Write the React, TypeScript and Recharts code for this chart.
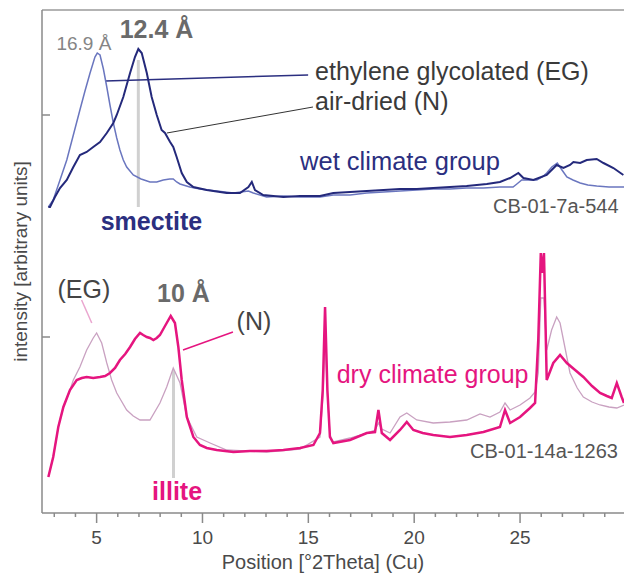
import { LineChart, Line, XAxis, YAxis, ReferenceLine, ReferenceDot } from 'recharts'

const FONT = '"Liberation Sans", Arial, Helvetica, sans-serif'

// x = position [°2Theta], y = intensity (arbitrary units, offset per group)
// wet climate group, CB-01-7a-544
const wetEG: [number, number][] = [
  [2.72, 306], [2.95, 313], [3.27, 333], [3.59, 353], [3.90, 378], [4.21, 403], [4.45, 422],
  [4.69, 440], [4.92, 456], [5.03, 460], [5.16, 458], [5.32, 444], [5.48, 426], [5.63, 408],
  [5.79, 390], [5.95, 375], [6.10, 363], [6.26, 353], [6.42, 346], [6.73, 338], [7.10, 334],
  [7.52, 331], [7.84, 331], [8.15, 333], [8.45, 334], [8.62, 334], [8.78, 331], [8.94, 329],
  [9.40, 326], [9.88, 324], [10.67, 322], [11.46, 320], [12.17, 322], [12.40, 320], [13.03, 316],
  [13.82, 317], [14.61, 316], [15.55, 316], [16.18, 318], [16.97, 318], [17.76, 320], [18.55, 321],
  [19.33, 322], [20.12, 323], [20.90, 324], [21.69, 324], [22.48, 325], [23.27, 325], [24.05, 326],
  [24.67, 326], [24.85, 329], [25.08, 333], [25.40, 333], [25.79, 333], [26.05, 336], [26.26, 340],
  [26.50, 346], [26.76, 350], [26.98, 343], [27.21, 336], [27.50, 333], [27.84, 330], [28.20, 328],
  [28.62, 327], [29.20, 326], [29.91, 326],
]

const wetN: [number, number][] = [
  [2.72, 306], [2.80, 306], [3.03, 316], [3.27, 325], [3.59, 333], [3.90, 346], [4.21, 358],
  [4.53, 361], [4.84, 366], [5.16, 371], [5.48, 380], [5.79, 390], [5.95, 398], [6.26, 416],
  [6.58, 440], [6.81, 456], [6.97, 464], [7.13, 460], [7.37, 440], [7.60, 416], [7.84, 398],
  [8.07, 383], [8.23, 380], [8.47, 371], [8.62, 366], [8.78, 356], [9.02, 340], [9.26, 331],
  [9.57, 326], [10.20, 323], [11.14, 320], [11.77, 320], [12.17, 326], [12.33, 331], [12.48, 323],
  [12.87, 318], [13.82, 316], [14.61, 317], [15.55, 317], [16.18, 320], [16.97, 321], [17.76, 322],
  [18.55, 323], [19.33, 324], [20.12, 324], [20.90, 325], [21.69, 326], [22.48, 327], [23.43, 329],
  [24.05, 331], [24.53, 335], [24.92, 340], [25.16, 335], [25.63, 333], [26.26, 338], [26.73, 348],
  [27.05, 345], [27.36, 348], [27.52, 351], [27.84, 350], [28.15, 353], [28.62, 354], [28.94, 350],
  [29.41, 345], [29.88, 338],
]

// dry climate group, CB-01-14a-1263
const dryEG: [number, number][] = [
  [2.72, 36], [2.95, 56], [3.19, 86], [3.43, 106], [3.74, 123], [3.90, 133], [4.21, 146],
  [4.53, 163], [4.84, 175], [5.00, 180], [5.24, 170], [5.48, 150], [5.71, 133], [5.95, 120],
  [6.42, 103], [6.73, 97], [7.05, 93], [7.52, 93], [7.99, 110], [8.31, 126], [8.62, 145],
  [8.94, 130], [9.26, 96], [9.73, 76], [10.36, 70], [11.14, 63], [12.00, 62], [13.03, 61],
  [14.61, 64], [15.55, 76], [15.70, 120], [15.79, 180], [15.90, 120], [16.02, 78], [16.18, 71],
  [16.97, 75], [17.76, 80], [18.15, 83], [18.31, 90], [18.47, 84], [18.86, 80], [19.33, 96],
  [19.65, 100], [20.12, 93], [20.90, 90], [21.69, 91], [22.48, 93], [23.11, 99], [23.58, 96],
  [24.05, 101], [24.29, 110], [24.53, 103], [25.00, 108], [25.47, 115], [25.71, 121], [25.86, 140],
  [25.98, 215], [26.13, 215], [26.26, 163], [26.49, 183], [26.73, 196], [26.89, 190], [27.05, 173],
  [27.36, 140], [27.70, 125], [27.99, 116], [28.40, 111], [28.78, 108], [29.20, 106], [29.57, 105],
  [29.91, 108],
]

const dryN: [number, number][] = [
  [2.72, 36], [2.95, 56], [3.19, 86], [3.43, 106], [3.74, 123], [4.06, 133], [4.30, 135],
  [4.53, 136], [4.84, 135], [5.16, 136], [5.40, 137], [5.63, 140], [5.87, 145], [6.10, 153],
  [6.35, 159], [6.58, 166], [6.81, 174], [7.05, 180], [7.20, 178], [7.37, 176], [7.52, 175],
  [7.68, 173], [7.84, 175], [7.99, 178], [8.15, 184], [8.31, 190], [8.50, 197], [8.70, 190],
  [8.86, 166], [9.02, 133], [9.26, 96], [9.57, 76], [9.88, 68], [10.20, 65], [10.67, 63],
  [11.46, 61], [12.24, 62], [13.03, 62], [13.82, 63], [14.61, 65], [15.24, 68], [15.55, 80],
  [15.68, 123], [15.79, 206], [15.90, 123], [16.02, 76], [16.18, 70], [16.97, 73], [17.76, 80],
  [18.15, 81], [18.31, 103], [18.47, 80], [18.86, 73], [19.33, 83], [19.65, 91], [19.96, 83],
  [20.40, 80], [20.90, 78], [21.69, 76], [22.48, 78], [23.27, 81], [24.05, 86], [24.29, 103],
  [24.53, 90], [25.00, 96], [25.47, 105], [25.71, 110], [25.86, 173], [25.98, 260], [26.05, 240],
  [26.13, 260], [26.26, 133], [26.57, 150], [26.89, 158], [27.21, 150], [27.60, 143], [27.99, 136],
  [28.40, 127], [28.78, 120], [29.10, 117], [29.33, 115], [29.57, 130], [29.80, 116], [29.91, 110],
]

const xTicks = [3, 4, 5, 6, 7, 8, 9, 10, 11, 12, 13, 14, 15, 16, 17, 18, 19, 20, 21, 22, 23, 24, 25, 26, 27, 28, 29]
const yTicks = [176, 398]

const notes = [
  { x: 4.40, y: 463, text: '16.9 Å', anchor: 'middle', size: 19, weight: 400, color: '#858585' },
  { x: 7.83, y: 475, text: '12.4 Å', anchor: 'middle', size: 25, weight: 700, color: '#6a6a6a' },
  { x: 7.59, y: 283, text: 'smectite', anchor: 'middle', size: 25, weight: 700, color: '#2b2f80' },
  { x: 15.32, y: 433, text: 'ethylene glycolated (EG)', anchor: 'start', size: 25, weight: 400, color: '#3a3a3a' },
  { x: 15.32, y: 403, text: 'air-dried (N)', anchor: 'start', size: 25, weight: 400, color: '#3a3a3a' },
  { x: 14.61, y: 343, text: 'wet climate group', anchor: 'start', size: 25.5, weight: 400, color: '#2b2f80' },
  { x: 23.72, y: 300, text: 'CB-01-7a-544', anchor: 'start', size: 20, weight: 400, color: '#555555' },
  { x: 4.40, y: 215, text: '(EG)', anchor: 'middle', size: 25, weight: 400, color: '#444444' },
  { x: 9.10, y: 211, text: '10 Å', anchor: 'middle', size: 25, weight: 700, color: '#6a6a6a' },
  { x: 12.43, y: 183, text: '(N)', anchor: 'middle', size: 25, weight: 400, color: '#444444' },
  { x: 8.80, y: 13, text: 'illite', anchor: 'middle', size: 25, weight: 700, color: '#e5157f' },
  { x: 16.34, y: 130, text: 'dry climate group', anchor: 'start', size: 25, weight: 400, color: '#e5157f' },
  { x: 22.64, y: 55, text: 'CB-01-14a-1263', anchor: 'start', size: 20, weight: 400, color: '#555555' },
]

const leaders = [
  { from: [6.97, 453], to: [6.97, 306], color: '#d0d0d0', width: 3 },
  { from: [8.63, 143], to: [8.63, 35], color: '#d0d0d0', width: 3 },
  { from: [5.40, 432], to: [14.99, 438], color: '#2b2f80', width: 1.5 },
  { from: [8.32, 380], to: [15.22, 406], color: '#333333', width: 1 },
  { from: [4.29, 213], to: [4.77, 190], color: '#eaa6cf', width: 1.5 },
  { from: [9.08, 163], to: [11.44, 181], color: '#e5157f', width: 1.5 },
]

const toPoints = (arr: [number, number][]) => arr.map(([x, y]) => ({ x, y }))

function XTick({ x, y, payload }: any) {
  const major = payload.value % 5 === 0
  return (
    <g>
      <line x1={x} x2={x} y1={y} y2={y + (major ? 10 : 4)} stroke="#8a8a8a" strokeWidth={1.5} />
      {major && (
        <text x={x} y={y + 31} textAnchor="middle" fontSize={19} fill="#4a4a4a" fontFamily={FONT}>
          {payload.value}
        </text>
      )}
    </g>
  )
}

function YTick({ x, y }: any) {
  return <line x1={x} x2={x + 8} y1={y} y2={y} stroke="#8a8a8a" strokeWidth={1.5} />
}

export default function App() {
  return (
    <div style={{ position: 'absolute', left: 0, top: 0, width: 624, height: 575, background: '#fff' }}>
      <LineChart width={624} height={575} margin={{ top: 10, right: 0, bottom: 0, left: 0 }}>
        <XAxis
          type="number"
          dataKey="x"
          domain={[2.42, 29.91]}
          allowDataOverflow
          ticks={xTicks}
          interval={0}
          height={62}
          tickSize={0}
          tickMargin={0}
          tickLine={false}
          tick={<XTick />}
          axisLine={{ stroke: '#8a8a8a', strokeWidth: 1.5 }}
          label={(p: any) => {
            const vb = p.viewBox
            return (
              <text
                x={vb.x + vb.width / 2 - 10}
                y={vb.y + vb.height - 6}
                textAnchor="middle"
                fontSize={20}
                fill="#4a4a4a"
                fontFamily={FONT}
              >
                Position [°2Theta] (Cu)
              </text>
            )
          }}
        />
        <YAxis
          type="number"
          dataKey="y"
          domain={[0, 503]}
          allowDataOverflow
          ticks={yTicks}
          width={42}
          tickSize={0}
          tickMargin={0}
          tickLine={false}
          tick={<YTick />}
          axisLine={{ stroke: '#8a8a8a', strokeWidth: 1.5 }}
          label={(p: any) => {
            const vb = p.viewBox
            const cx = vb.x + 27
            const cy = vb.y + vb.height / 2
            return (
              <text
                x={cx}
                y={cy}
                transform={`rotate(-90 ${cx} ${cy})`}
                textAnchor="middle"
                fontSize={19}
                fill="#4a4a4a"
                fontFamily={FONT}
              >
                intensity [arbitrary units]
              </text>
            )
          }}
        />
        <ReferenceLine y={503} stroke="#9a9a9a" strokeWidth={1.5} />
        {leaders.map((l, i) => (
          <ReferenceLine
            key={'l' + i}
            segment={[{ x: l.from[0], y: l.from[1] }, { x: l.to[0], y: l.to[1] }]}
            stroke={l.color}
            strokeWidth={l.width}
          />
        ))}
        <Line data={toPoints(wetEG)} dataKey="y" stroke="#6a76bf" strokeWidth={1.5} dot={false} isAnimationActive={false} />
        <Line data={toPoints(wetN)} dataKey="y" stroke="#24297b" strokeWidth={2} dot={false} isAnimationActive={false} />
        <Line data={toPoints(dryEG)} dataKey="y" stroke="#c9a1c1" strokeWidth={1.3} dot={false} isAnimationActive={false} />
        <Line data={toPoints(dryN)} dataKey="y" stroke="#e5157f" strokeWidth={2.5} dot={false} isAnimationActive={false} />
        {notes.map((n, i) => (
          <ReferenceDot
            key={'n' + i}
            x={n.x}
            y={n.y}
            r={0}
            fill="none"
            stroke="none"
            label={(p: any) => (
              <text
                x={p.viewBox.x}
                y={p.viewBox.y}
                textAnchor={n.anchor}
                fontSize={n.size}
                fontWeight={n.weight}
                fill={n.color}
                fontFamily={FONT}
              >
                {n.text}
              </text>
            )}
          />
        ))}
      </LineChart>
    </div>
  )
}
